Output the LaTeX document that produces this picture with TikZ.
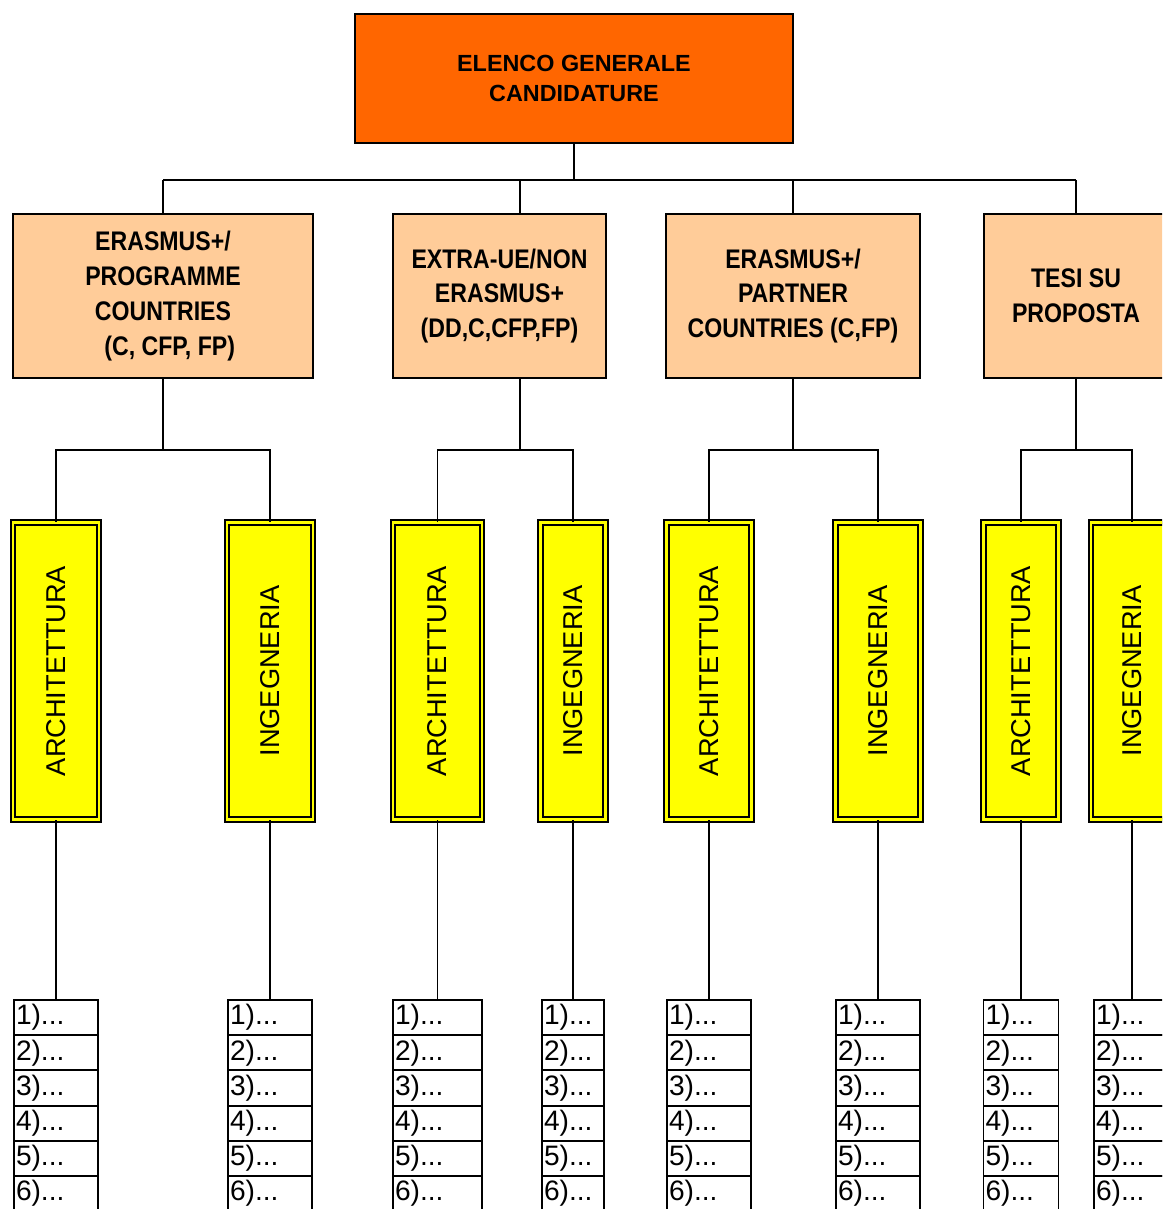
\documentclass[tikz,border=0pt]{standalone}
\usepackage{fontspec}
\setmainfont{Liberation Sans}
\newfontfamily\narrowbold[FakeStretch=0.86]{Liberation Sans Bold}
\usepackage{graphicx}
\usetikzlibrary{positioning}
\definecolor{orangetete}{HTML}{FF6600}
\definecolor{pechebloc}{HTML}{FFCC99}
\definecolor{jaunecorso}{HTML}{FFFF00}

\begin{document}
\begin{tikzpicture}[x=0.02cm, y=-0.02cm, line width=1.1pt,
  every node/.style={inner sep=0pt, align=center},
  tete/.style={draw, fill=orangetete, minimum width=8.76cm, minimum height=2.58cm,
    font=\fontsize{13.3}{17}\selectfont\bfseries},
  bloc/.style={draw, fill=pechebloc, minimum height=3.28cm,
    font=\fontsize{15.3}{19.8}\narrowbold},
  corso/.style={draw, double=jaunecorso, double distance=1.5pt, line width=1pt,
    fill=jaunecorso, minimum height=5.94cm, font=\fontsize{15.5}{18}\selectfont},
  riga/.style={draw, minimum height=0.704cm, inner xsep=0.04cm, align=left,
    font=\fontsize{16}{18}\selectfont}]

  \useasboundingbox (0,0) rectangle (1162,1209);
  \clip (0,0) rectangle (1162,1209);

  % Elenco generale
  \node[tete] (elenco) at (574,78.5) {ELENCO GENERALE\\CANDIDATURE};

  % Tipologie
  \node[bloc, minimum width=6cm] (progr) at (163,296)
    {ERASMUS+/\\PROGRAMME\\COUNTRIES\\\hspace*{0.5em}(C, CFP, FP)};
  \node[bloc, minimum width=4.26cm] (extra) at (499.5,296)
    {EXTRA-UE/NON\\ERASMUS+\\(DD,C,CFP,FP)};
  \node[bloc, minimum width=5.08cm] (partner) at (793,296)
    {ERASMUS+/\\PARTNER\\COUNTRIES (C,FP)};
  \node[bloc, minimum width=3.68cm] (tesi) at (1076,296) {TESI SU\\PROPOSTA};

  % Corsi e graduatorie
  \foreach \nom/\cx/\lar/\txt/\lst in {
      Aa/56/1.72/ARCHITETTURA/1.68, Ai/270/1.72/INGEGNERIA/1.68,
      Ba/437.5/1.78/ARCHITETTURA/1.78, Bi/573/1.3/INGEGNERIA/1.24,
      Ca/709/1.7/ARCHITETTURA/1.68, Ci/878/1.7/INGEGNERIA/1.68,
      Da/1021/1.5/ARCHITETTURA/1.5, Di/1132/1.64/INGEGNERIA/1.52} {
    \node[corso, minimum width=\lar cm] (\nom) at (\cx,671) {\rotatebox{90}{\txt}};
    \pgfmathsetmacro{\tw}{\lst-0.08}
    \foreach \r in {1,...,6} {
      \node[riga, minimum width=\lst cm, text width=\tw cm] (\nom-\r)
        at (\cx,{1000+(\r-0.5)*35.2}) {\r)...};
    }
    \draw (\nom.south) -- (\nom-1.north);
  }

  % Collegamenti
  \coordinate (bus) at (0,180);
  \coordinate (fork) at (0,450);
  \coordinate (stemB) at (520,0);
  \draw (elenco.south) -- (elenco.south |- bus);
  \draw (progr.north |- bus) -- (tesi.north |- bus);
  \foreach \b in {progr, partner, tesi}
    \draw (\b.north |- bus) -- (\b.north);
  \draw (stemB |- bus) -- (stemB |- extra.north);

  \draw (progr.south) -- (progr.south |- fork);
  \draw (stemB |- extra.south) -- (stemB |- fork);
  \draw (partner.south) -- (partner.south |- fork);
  \draw (tesi.south) -- (tesi.south |- fork);
  \foreach \a/\i in {Aa/Ai, Ba/Bi, Ca/Ci, Da/Di}
    \draw (\a.north) |- (fork -| \i.north) -- (\i.north);

\end{tikzpicture}
\end{document}
